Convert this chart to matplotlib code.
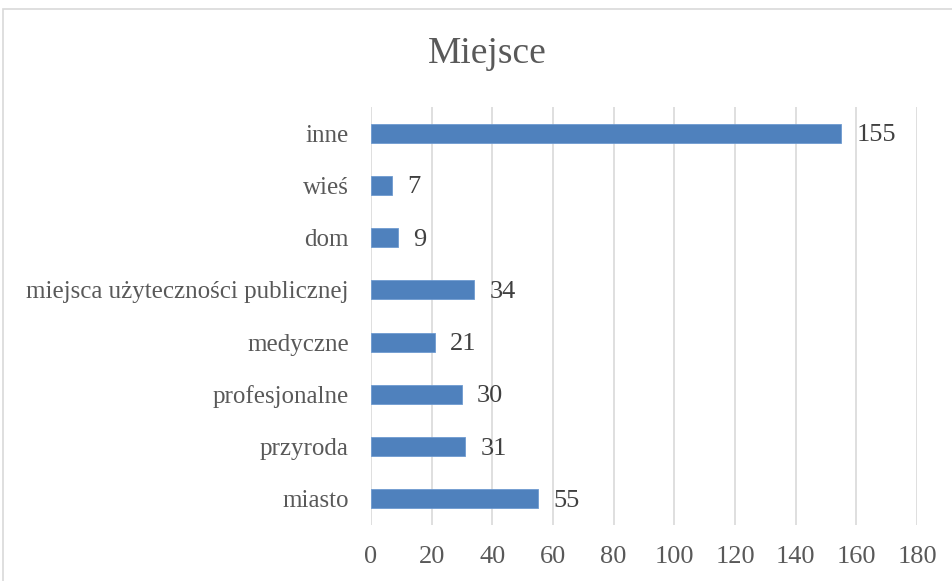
import matplotlib
matplotlib.use("Agg")
import matplotlib.pyplot as plt
from matplotlib.patches import Rectangle

# data, bottom to top as in the chart
categories = ["miasto", "przyroda", "profesjonalne", "medyczne",
              "miejsca użyteczności publicznej", "dom", "wieś", "inne"]
values = [55, 31, 30, 21, 34, 9, 7, 155]
x_ticks = [0, 20, 40, 60, 80, 100, 120, 140, 160, 180]

text_col = "#595959"
bar_col = "#4F81BD"
grid_col = "#D9D9D9"

plt.rcParams['font.family'] = ['Liberation Serif', 'DejaVu Serif']

fig = plt.figure(figsize=(9.52, 5.81), dpi=100)
# chart border (light grey frame like the office export)
fig.patches.append(Rectangle((3 / 952, -0.1), 1.2, 1 - 9 / 581 + 0.1,
                             transform=fig.transFigure, fill=False,
                             edgecolor=grid_col, linewidth=1.2))

ax = fig.add_axes([371 / 952, 1 - 525 / 581, (917 - 371) / 952, (525 - 107) / 581])
ypos = list(range(len(categories)))
ax.barh(ypos, values, height=0.36, color=bar_col, edgecolor="#6E9AD0", linewidth=0.6, zorder=3)

for y, v in zip(ypos, values):
    ax.text(v + 5, y - 0.04, str(v), va="center", ha="left", fontsize=19, color="#404040")

ax.set_xlim(0, 180)
ax.set_ylim(-0.5, len(categories) - 0.5)
ax.set_xticks(x_ticks)
ax.set_yticks(ypos)
ax.set_yticklabels(categories)
ax.tick_params(axis="both", length=0, labelcolor=text_col)
ax.tick_params(axis="x", pad=15, labelsize=19)
ax.tick_params(axis="y", pad=16, labelsize=18)
ax.grid(axis="x", color=grid_col, linewidth=1.2, zorder=0)
for s in ax.spines.values():
    s.set_visible(False)
ax.set_facecolor("none")

fig.text(487 / 952, 1 - 54 / 581, "Miejsce", ha="center", va="center", fontsize=27, color=text_col)

fig.savefig("out.png", dpi=100)
